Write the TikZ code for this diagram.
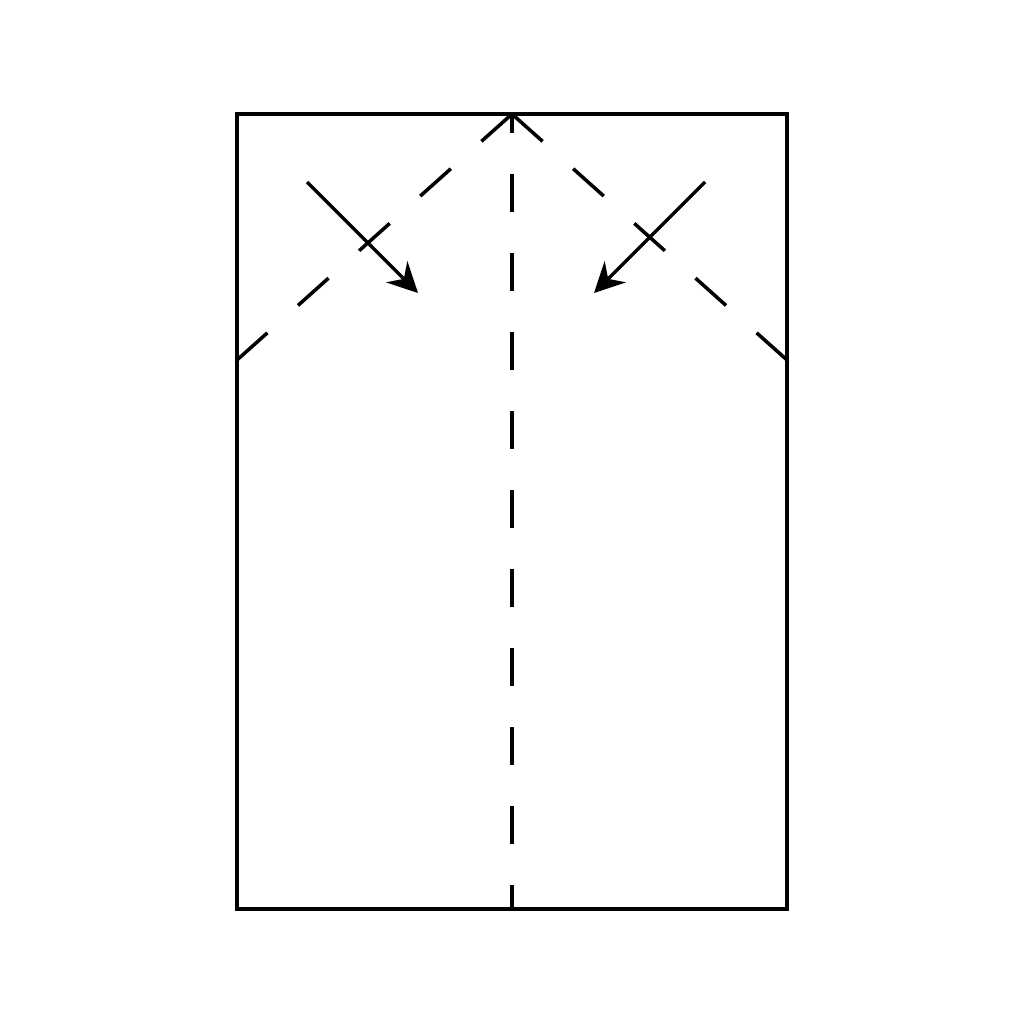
\documentclass[tikz,border=0pt]{standalone}
\usetikzlibrary{arrows.meta}
\tikzstyle{paper} = [line width=1pt]
\tikzstyle{valley} = [line width=1pt, dash pattern=on 0.41cm off 0.41cm]
\tikzstyle{crease} = [line width=1pt, dash pattern=on 0.38cm off 0.41cm, dash phase=0.19cm]
\tikzstyle{arrow} = [line width=1pt, -{Stealth[length=3mm, width=3mm, inset=1mm]}]

\begin{document}
\begin{tikzpicture}[x=0.01cm, y=-0.01cm]
    \useasboundingbox (0,0) rectangle (1024,1024);
    \coordinate (tl) at (237,114);
    \coordinate (br) at (787,909);
    \coordinate (top) at (512,114);
    \coordinate (bottom) at (512,909);
    \coordinate (left) at (237,360);
    \coordinate (right) at (787,360);
    \coordinate (a1) at (307,182);
    \coordinate (a2) at (418,293);
    \coordinate (b1) at (705,182);
    \coordinate (b2) at (594,293);
    \draw [paper] (tl) rectangle (br);
    \draw [valley] (top) -- (left);
    \draw [valley] (top) -- (right);
    \draw [crease] (top) -- (bottom);
    \draw [arrow] (a1) -- (a2);
    \draw [arrow] (b1) -- (b2);
\end{tikzpicture}
\end{document}
